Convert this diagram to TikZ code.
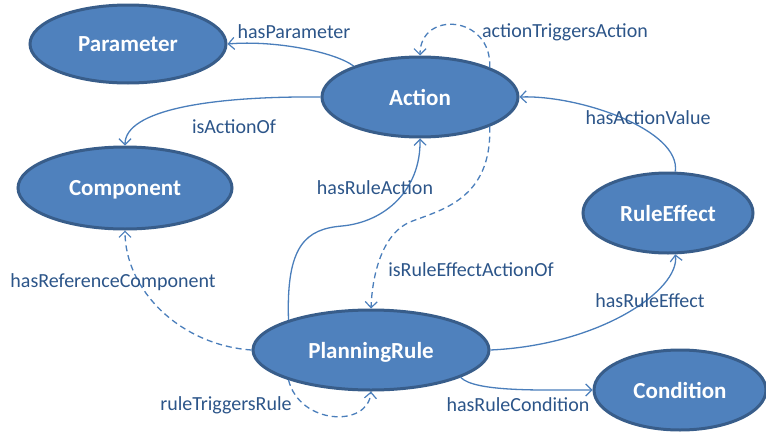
\documentclass[tikz,border=0pt]{standalone}
\usepackage{fontspec}
\setmainfont{Carlito}
\usetikzlibrary{shapes.geometric,arrows.meta}
\definecolor{nodefill}{HTML}{4F81BD}
\definecolor{nodeborder}{HTML}{385D8A}
\definecolor{edgecol}{HTML}{4A7EBB}
\definecolor{labelcol}{HTML}{2C5589}
\tikzset{
  cls/.style={ellipse, draw=nodeborder, fill=nodefill, line width=3pt, inner sep=0pt,
    text=white, font=\fontsize{23}{27}\selectfont\bfseries, text depth=0pt},
  edge/.style={draw=edgecol, line width=1.3pt, -{Straight Barb[length=6pt,width=12pt,line width=1.2pt]}},
  dashedge/.style={edge, dash pattern=on 6pt off 4pt},
  elabel/.style={text=labelcol, font=\fontsize{20}{24}\selectfont, inner sep=0pt}
}
\begin{document}
\begin{tikzpicture}[x=1pt,y=-1pt]
\useasboundingbox (0,0) rectangle (766,434);
% classes
\node[cls, minimum width=196pt, minimum height=78pt] (par) at (128,44) {Parameter};
\node[cls, minimum width=196pt, minimum height=80pt] (act) at (420,97) {Action};
\node[cls, minimum width=214pt, minimum height=82pt] (comp) at (125,188) {Component};
\node[cls, minimum width=170pt, minimum height=80pt] (re) at (668,213) {RuleEffect};
\node[cls, minimum width=236pt, minimum height=80pt] (pr) at (371,350) {PlanningRule};
\node[cls, minimum width=172pt, minimum height=80pt] (cond) at (680,390) {Condition};
% connectors
\draw[edge] (act.155) .. controls (335,52) and (275,40) .. (par.east);
\draw[edge] (act.west) .. controls (210,96) and (125,110) .. (comp.north);
\draw[dashedge] (act.23) .. controls (492,15) and (420,10) .. (act.north);
\draw[edge] (re.80) .. controls (681,130) and (580,95) .. (act.east);
\draw[edge] (pr.160) .. controls (286,245) and (306,229) .. (342,226)
   .. controls (385,222) and (421,190) .. (act.south);
\draw[dashedge] (act.-23) .. controls (492,200) and (440,210) .. (410,222)
   .. controls (380,235) and (372,280) .. (pr.north);
\draw[dashedge] (pr.west) .. controls (180,345) and (125,290) .. (comp.south);
\draw[dashedge] (pr.200) .. controls (300,425) and (368,428) .. (pr.south);
\draw[edge] (pr.east) .. controls (600,345) and (680,290) .. (re.-80);
\draw[edge] (pr.-17) .. controls (475,392) and (540,390) .. (cond.west);
% labels
\node[elabel] (l1) at (294,32) {hasParameter};
\node[elabel] (l2) at (565,32) {actionTriggersAction};
\node[elabel] (l3) at (234,127) {isActionOf};
\node[elabel] (l4) at (648,118) {hasActionValue};
\node[elabel] (l5) at (375,188) {hasRuleAction};
\node[elabel] (l6) at (471,270) {isRuleEffectActionOf};
\node[elabel] (l7) at (113,282) {hasReferenceComponent};
\node[elabel] (l8) at (650,301) {hasRuleEffect};
\node[elabel] (l9) at (226,405) {ruleTriggersRule};
\node[elabel] (l10) at (518,405) {hasRuleCondition};
\end{tikzpicture}
\end{document}
